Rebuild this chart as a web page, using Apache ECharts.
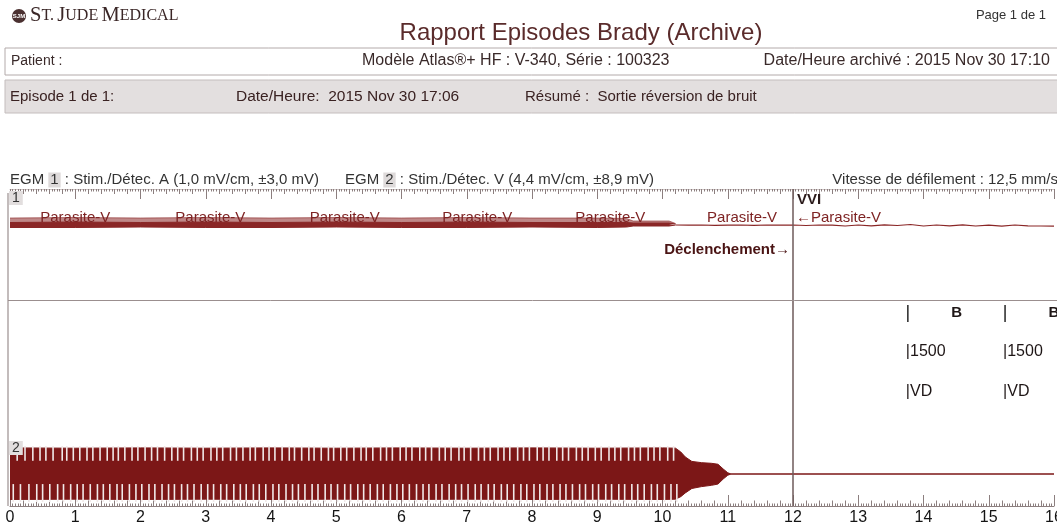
<!DOCTYPE html>
<html>
<head>
<meta charset="utf-8">
<title>Rapport Episodes Brady (Archive)</title>
<script src="https://cdn.jsdelivr.net/npm/echarts@6/dist/echarts.min.js"></script>
<style>
  html, body { margin: 0; padding: 0; background: #fff; }
  #chart { width: 1057px; height: 527px; }
</style>
</head>
<body>
<div id="chart"></div>
<script>
// ---- Time scale (seconds) ----
const secondLabels = ['0','1','2','3','4','5','6','7','8','9','10','11','12','13','14','15','16'];

// ---- EGM 1 (A channel, mV): noise envelope (dense core + sparse fringe), then quiet tail ----
const ch1EnvTime    = [0, 1, 2, 3, 4, 5, 6, 7, 8, 9, 9.45, 9.55, 10.1, 10.2];
const ch1CoreUpper  = [0.15, 0.2, 0.15, 0.2, 0.15, 0.2, 0.15, 0.2, 0.15, 0.15, 0.15, 0.1, 0.1, 0.0];
const ch1FringeUp   = [0.6, 0.65, 0.6, 0.65, 0.6, 0.65, 0.6, 0.65, 0.6, 0.6, 0.55, 0.3, 0.3, 0.05];
const ch1EnvLower   = [-0.35, -0.35, -0.3, -0.35, -0.35, -0.3, -0.35, -0.35, -0.3, -0.35, -0.3, -0.2, -0.2, -0.1];
const ch1TailTime = [10.2, 10.4, 10.6, 10.8, 11.0, 11.2, 11.4, 11.6, 11.8, 12.0, 12.2, 12.4, 12.6, 12.8, 13.0, 13.2, 13.4, 13.6, 13.8, 14.0, 14.2, 14.4, 14.6, 14.8, 15.0, 15.2, 15.4, 15.6, 15.8, 16.0];
const ch1Tail     = [-0.1, -0.12, -0.1, -0.14, -0.12, -0.1, -0.13, -0.1, -0.12, -0.1, -0.15, -0.1, -0.12, -0.2, -0.1, -0.18, -0.08, -0.15, -0.05, -0.2, -0.1, -0.18, -0.08, -0.2, -0.12, -0.22, -0.1, -0.18, -0.2, -0.22];

// ---- EGM 2 (V channel, mV): saturated noise envelope, then flat line ----
const ch2EnvTime  = [0, 1, 2, 3, 4, 5, 6, 7, 8, 9, 10, 10.2, 10.28, 10.35, 10.45, 10.6, 10.75, 10.85, 10.93, 11.0, 11.05, 16];
const ch2EnvUpper = [8.3, 8.2, 8.3, 8.2, 8.3, 8.2, 8.3, 8.2, 8.3, 8.2, 8.3, 8.2, 7.0, 5.4, 4.0, 3.6, 3.4, 3.1, 1.6, 0.4, 0, 0];
const ch2EnvLower = [-8.1, -8.0, -8.1, -8.0, -8.1, -8.0, -8.1, -8.0, -8.1, -8.0, -8.1, -8.0, -7.2, -6.0, -4.6, -4.0, -3.6, -3.2, -1.6, -0.4, 0, 0];
// light streaks visible through the upper and lower edges of the noise band
const ch2StreakTop = [0.11,0.23,0.35,0.46,0.55,0.66,0.80,0.87,0.97,1.07,1.18,1.27,1.38,1.49,1.58,1.66,1.76,1.87,1.96,2.07,2.17,2.26,2.37,2.48,2.57,2.66,2.78,2.87,2.96,3.08,3.17,3.26,3.38,3.47,3.57,3.68,3.76,3.88,3.97,4.06,4.17,4.28,4.36,4.47,4.58,4.66,4.77,4.88,4.96,5.07,5.16,5.27,5.38,5.46,5.56,5.68,5.77,5.86,5.98,6.07,6.16,6.28,6.37,6.46,6.58,6.67,6.76,6.88,6.96,7.06,7.18,7.27,7.36,7.48,7.57,7.66,7.78,7.87,7.96,8.08,8.17,8.26,8.38,8.47,8.56,8.68,8.77,8.86,8.97,9.06,9.18,9.27,9.36,9.48,9.57,9.66,9.78,9.87,9.96,10.08,10.17];
const ch2StreakBottom = [0.05,0.16,0.29,0.41,0.50,0.61,0.73,0.82,0.93,1.03,1.12,1.23,1.34,1.43,1.53,1.64,1.72,1.83,1.93,2.02,2.13,2.22,2.33,2.43,2.52,2.63,2.72,2.82,2.93,3.03,3.12,3.23,3.32,3.43,3.53,3.62,3.73,3.82,3.92,4.03,4.12,4.23,4.33,4.42,4.52,4.63,4.72,4.83,4.92,5.02,5.13,5.22,5.33,5.42,5.52,5.63,5.72,5.83,5.93,6.02,6.12,6.23,6.33,6.42,6.53,6.62,6.73,6.83,6.92,7.02,7.13,7.22,7.33,7.42,7.53,7.62,7.72,7.83,7.92,8.03,8.12,8.23,8.32,8.43,8.52,8.62,8.73,8.82,8.93,9.02,9.13,9.22,9.33,9.42,9.53,9.62,9.72,9.83,9.92,10.03,10.13,10.22];

// ---- Marker channel ----
const noiseMarkTimes = [1.0, 3.07, 5.13, 7.16, 9.2, 11.22];   // "Parasite-V" (centre)
const noiseMarkText  = 'Parasite-V';
const switchTime     = 12.0;                                 // mode switch / trigger
const switchMode     = 'VVI';
const switchNoise    = '←Parasite-V';
const triggerText    = 'Déclenchement→';
const pacedTimes     = [13.76, 15.25];                        // paced ventricular events
const pacedCodes     = ['B', 'B'];
const pacedIntervals = [1500, 1500];                          // ms
const pacedTypes     = ['VD', 'VD'];

// ---- styling ----
const FONT = '"Liberation Sans", Arial, sans-serif';
const SERIF = '"Liberation Serif", "DejaVu Serif", serif';
const TRACE2 = '#7c1717';
const TRACE1 = '#8a2626';
const MARK = '#7e2323';
const RULER = '#8c7f7f';
const INK = '#3a2a2a';
const GRID_L = 10, GRID_R = 3;

// rows of the marker grid (pixels below its top edge)
const ROW_MODE = 11, ROW_NOISE = 29, ROW_TRIGGER = 61, ROW_TICK = 124.5, ROW_CODE = 124, ROW_INTERVAL = 163, ROW_TYPE = 203;

const zip = (xs, ys) => xs.map((x, i) => [x, ys[i]]);

const chart = echarts.init(document.getElementById('chart'), null, { renderer: 'canvas' });

const gridBase = { left: GRID_L, right: GRID_R, containLabel: false, outerBoundsMode: 'none' };
const hiddenX = (gi) => ({ type: 'value', gridIndex: gi, min: 0, max: 16, show: false });

function streakSeries(times, from, to) {
  return {
    type: 'custom', xAxisIndex: 5, yAxisIndex: 2, silent: true, z: 4,
    data: times.map(t => [t, 0]),
    encode: { x: 0, y: 1 },
    renderItem: (params, api) => {
      const a = api.coord([api.value(0), from]);
      const b = api.coord([api.value(0), to]);
      return { type: 'rect', shape: { x: a[0] - 0.8, y: Math.min(a[1], b[1]), width: 1.6, height: Math.abs(b[1] - a[1]) },
               style: { fill: '#f1e9e9' } };
    }
  };
}

const plain = { textBorderWidth: 0, textBorderColor: 'transparent', textShadowBlur: 0, opacity: 1 };
const lbl = (o) => Object.assign({}, plain, o);

const markerRows = [];
noiseMarkTimes.forEach(t => markerRows.push({ value: [t, ROW_NOISE], label: lbl({ formatter: noiseMarkText, color: MARK, fontSize: 15 }) }));
markerRows.push({ value: [switchTime, ROW_MODE], label: lbl({ formatter: switchMode, align: 'left', offset: [4, 0], color: '#2a1a1a', fontSize: 15, fontWeight: 'bold' }) });
markerRows.push({ value: [switchTime, ROW_NOISE], label: lbl({ formatter: switchNoise, align: 'left', offset: [3, 0], color: MARK, fontSize: 15 }) });
markerRows.push({ value: [switchTime, ROW_TRIGGER], label: lbl({ formatter: triggerText, align: 'right', offset: [-3, 0], color: '#4a1414', fontSize: 15, fontWeight: 'bold' }) });
pacedTimes.forEach((t, i) => {
  markerRows.push({ value: [t + pacedIntervals[i] / 2000, ROW_CODE], label: lbl({ formatter: pacedCodes[i], color: '#1e1616', fontSize: 15, fontWeight: 'bold' }) });
  markerRows.push({ value: [t, ROW_INTERVAL], label: lbl({ formatter: '|' + pacedIntervals[i], align: 'left', offset: [-2, 0], color: '#1e1616', fontSize: 16 }) });
  markerRows.push({ value: [t, ROW_TYPE], label: lbl({ formatter: '|' + pacedTypes[i], align: 'left', offset: [-2, 0], color: '#1e1616', fontSize: 16 }) });
});

const headText = (text, x, y, size, extra) => Object.assign(
  { type: 'text', z: 20, style: Object.assign({ text, x, y, fill: INK, font: size + 'px ' + FONT, textVerticalAlign: 'middle' }, extra || {}) });

const option = {
  animation: false,
  backgroundColor: '#ffffff',
  textStyle: { fontFamily: FONT },
  grid: [
    Object.assign({ top: 189, height: 317 }, gridBase),   // 0: rulers
    Object.assign({ top: 194, height: 60 }, gridBase),    // 1: EGM 1
    Object.assign({ top: 446, height: 56 }, gridBase),    // 2: EGM 2
    Object.assign({ top: 189, height: 317 }, gridBase)    // 3: markers
  ],
  xAxis: [
    { type: 'value', gridIndex: 0, position: 'bottom', min: 0, max: 16, interval: 1,
      axisLine: { show: true, lineStyle: { color: RULER, width: 1 } },
      axisTick: { show: true, inside: true, length: 11, lineStyle: { color: RULER, width: 1 } },
      minorTick: { show: true, splitNumber: 25, length: 2.5, lineStyle: { color: RULER, width: 1 } },
      splitLine: { show: false },
      axisLabel: { show: true, margin: 4, fontSize: 16, color: '#141414', fontFamily: FONT,
                   formatter: v => secondLabels[Math.round(v)] || '' } },
    { type: 'value', gridIndex: 0, position: 'bottom', min: 0, max: 16, interval: 0.2,
      axisLine: { show: false }, axisLabel: { show: false }, splitLine: { show: false },
      axisTick: { show: true, inside: true, length: 5.5, lineStyle: { color: RULER, width: 1 } } },
    { type: 'value', gridIndex: 0, position: 'top', min: 0, max: 16, interval: 1,
      axisLine: { show: true, lineStyle: { color: '#cfc6c6', width: 1 } },
      axisTick: { show: true, inside: true, length: 10, lineStyle: { color: RULER, width: 1 } },
      minorTick: { show: true, splitNumber: 25, length: 2.5, lineStyle: { color: RULER, width: 1 } },
      splitLine: { show: false }, axisLabel: { show: false } },
    { type: 'value', gridIndex: 0, position: 'top', min: 0, max: 16, interval: 0.2,
      axisLine: { show: false }, axisLabel: { show: false }, splitLine: { show: false },
      axisTick: { show: true, inside: true, length: 5, lineStyle: { color: RULER, width: 1 } } },
    hiddenX(1),
    hiddenX(2),
    hiddenX(3)
  ],
  yAxis: [
    { type: 'value', gridIndex: 0, min: 0, max: 1, show: false },
    { type: 'value', gridIndex: 1, min: -3, max: 3, show: false },
    { type: 'value', gridIndex: 2, min: -8.9, max: 8.9, show: false },
    { type: 'value', gridIndex: 3, min: 0, max: 317, inverse: true, show: false }
  ],
  graphic: [
    // logo + titles
    { type: 'circle', z: 20, shape: { cx: 19, cy: 16, r: 7 }, style: { fill: '#4a3030' } },
    { type: 'text', z: 21, style: { text: 'SJM', x: 19, y: 16.5, fill: '#fff', font: 'bold 6px ' + FONT, textAlign: 'center', textVerticalAlign: 'middle' } },
    { type: 'text', z: 20, style: { x: 30, y: 16, textVerticalAlign: 'middle', fill: '#3a2626',
        text: '{b|S}{s|T.} {b|J}{s|UDE} {b|M}{s|EDICAL}',
        rich: { b: { fontSize: 20.5, fontFamily: SERIF, fill: '#3a2626' },
                s: { fontSize: 16, fontFamily: SERIF, fill: '#3a2626' } } } },
    headText('Rapport Episodes Brady (Archive)', 581, 33, 24, { fill: '#5a2b2b', textAlign: 'center' }),
    headText('Page 1 de 1', 1046, 15, 13, { fill: '#333', textAlign: 'right' }),
    // info rows
    { type: 'rect', z: 5, shape: { x: 5, y: 48, width: 1060, height: 27 }, style: { fill: '#fff', stroke: '#b3aaaa', lineWidth: 1 } },
    { type: 'rect', z: 5, shape: { x: 5, y: 80, width: 1060, height: 33 }, style: { fill: '#e3dfdf', stroke: '#c4bdbd', lineWidth: 1 } },
    headText('Patient :', 11, 61, 14),
    headText('Modèle Atlas®+ HF : V-340, Série : 100323', 362, 61, 16),
    headText('Date/Heure archivé : 2015 Nov 30 17:10', 1050, 61, 16, { textAlign: 'right' }),
    headText('Episode 1 de 1:', 10, 97, 15, { fill: '#3a2222' }),
    headText('Date/Heure:  2015 Nov 30 17:06', 236, 97, 15.5, { fill: '#3a2222' }),
    headText('Résumé :  Sortie réversion de bruit', 525, 97, 15, { fill: '#3a2222' }),
    // channel headings
    { type: 'text', z: 20, style: { x: 10, y: 180, textVerticalAlign: 'middle',
        text: '{n|EGM }{k|1}{n| : Stim./Détec. A (1,0 mV/cm, ±3,0 mV)}',
        rich: { n: { fontSize: 15, fontFamily: FONT, fill: '#333' }, k: { fontSize: 15, fontFamily: FONT, fill: '#333', backgroundColor: '#dedada', padding: [0, 2] } } } },
    { type: 'text', z: 20, style: { x: 345, y: 180, textVerticalAlign: 'middle',
        text: '{n|EGM }{k|2}{n| : Stim./Détec. V (4,4 mV/cm, ±8,9 mV)}',
        rich: { n: { fontSize: 15, fontFamily: FONT, fill: '#333' }, k: { fontSize: 15, fontFamily: FONT, fill: '#333', backgroundColor: '#dedada', padding: [0, 2] } } } },
    headText('Vitesse de défilement : 12,5 mm/s', 1058, 180, 15, { fill: '#333', textAlign: 'right' }),
    headText('1', 9, 198, 14, { fill: '#333', backgroundColor: '#e2dede', padding: [0, 3] }),
    headText('2', 9, 448, 14, { fill: '#333', backgroundColor: '#e2dede', padding: [0, 3] }),
    // frame lines
    { type: 'line', z: 10, shape: { x1: 8, y1: 193, x2: 8, y2: 506 }, style: { stroke: '#9b8f8f', lineWidth: 1.2 } },
    { type: 'line', z: 10, shape: { x1: 8, y1: 300.5, x2: 1057, y2: 300.5 }, style: { stroke: '#9b8f8f', lineWidth: 1 } }
  ],
  series: [
    // EGM 1
    { type: 'line', xAxisIndex: 4, yAxisIndex: 1, data: zip(ch1EnvTime, ch1FringeUp), symbol: 'none', silent: true,
      lineStyle: { color: TRACE1, width: 1, opacity: 0.6 }, areaStyle: { color: TRACE1, opacity: 0.55 }, z: 3 },
    { type: 'line', xAxisIndex: 4, yAxisIndex: 1, data: zip(ch1EnvTime, ch1CoreUpper), symbol: 'none', silent: true,
      lineStyle: { color: TRACE1, width: 1 }, areaStyle: { color: TRACE1, opacity: 1 }, z: 3 },
    { type: 'line', xAxisIndex: 4, yAxisIndex: 1, data: zip(ch1EnvTime, ch1EnvLower), symbol: 'none', silent: true,
      lineStyle: { color: TRACE1, width: 1 }, areaStyle: { color: TRACE1, opacity: 1 }, z: 3 },
    { type: 'line', xAxisIndex: 4, yAxisIndex: 1, data: zip(ch1TailTime, ch1Tail), symbol: 'none', silent: true,
      lineStyle: { color: TRACE1, width: 1.2 }, z: 3 },
    // EGM 2
    { type: 'line', xAxisIndex: 5, yAxisIndex: 2, data: zip(ch2EnvTime, ch2EnvUpper), symbol: 'none', silent: true,
      lineStyle: { color: TRACE2, width: 1 }, areaStyle: { color: TRACE2, opacity: 1 }, z: 3 },
    { type: 'line', xAxisIndex: 5, yAxisIndex: 2, data: zip(ch2EnvTime, ch2EnvLower), symbol: 'none', silent: true,
      lineStyle: { color: TRACE2, width: 1 }, areaStyle: { color: TRACE2, opacity: 1 }, z: 3 },
    streakSeries(ch2StreakTop, 8.9, 4.2),
    streakSeries(ch2StreakBottom, -8.9, -3.2),
    // marker channel texts + trigger line
    { type: 'scatter', xAxisIndex: 6, yAxisIndex: 3, symbolSize: 0, silent: true, z: 6,
      itemStyle: { opacity: 1, color: MARK },
      data: markerRows,
      label: { show: true, position: 'inside', fontFamily: FONT, textBorderWidth: 0, opacity: 1 },
      markLine: { silent: true, symbol: 'none', label: { show: false },
                  lineStyle: { color: '#6e5a5a', width: 1.5, type: 'solid', opacity: 1 },
                  data: [{ xAxis: switchTime }] } },
    // paced event ticks
    { type: 'scatter', xAxisIndex: 6, yAxisIndex: 3, silent: true, z: 6,
      data: pacedTimes.map(t => [t, ROW_TICK]), symbol: 'rect', symbolSize: [1.6, 17],
      itemStyle: { color: '#333', opacity: 1 } }
  ]
};

chart.setOption(option);
</script>
</body>
</html>
